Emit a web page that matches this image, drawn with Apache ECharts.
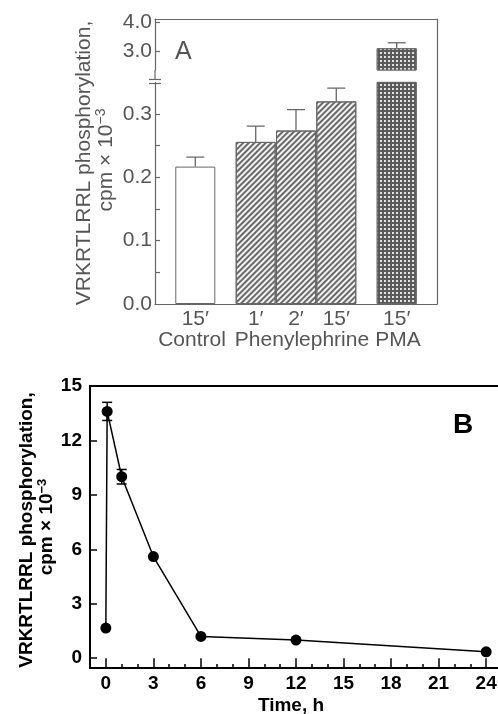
<!DOCTYPE html>
<html><head><meta charset="utf-8">
<script src="https://cdn.jsdelivr.net/npm/echarts@6/dist/echarts.min.js"></script>
<style>html,body{margin:0;padding:0;background:#fff}#c{width:498px;height:714px}</style>
</head><body><div id="c"></div>
<script>
// ---------- Panel A data ----------
const barLabelsA = ['15′', '1′', '2′', '15′', '15′'];
const barKindA   = ['control', 'phenyl', 'phenyl', 'phenyl', 'pma'];
const barPosA    = [1, 2.5, 3.5, 4.5, 6];
const barValA    = [0.217, 0.256, 0.274, 0.320, 3.11];
const barErrA    = [0.232, 0.281, 0.307, 0.341, 3.30];
const groupLabelsA = ['Control', 'Phenylephrine', 'PMA'];
const yTicksALow  = [0, 0.1, 0.2, 0.3];
const yTicksAHigh = [3, 4];
// ---------- Panel B data ----------
const timeB = [0, 0.083, 1, 3, 6, 12, 24];
const valB  = [1.66, 13.6, 10.0, 5.6, 1.2, 1.0, 0.35];
const errB  = [0, 0.5, 0.4, 0, 0, 0, 0];
const xTicksB = [0, 3, 6, 9, 12, 15, 18, 21, 24];
const yTicksB = [0, 3, 6, 9, 12, 15];

const FONT = 'Liberation Sans, Arial, Helvetica, sans-serif';
const GA = '#555555';   // panel A gray
const LA = '#666666';
const FA = 21;          // panel A font size
const FB = 19;          // panel B font size

function styleFor(kind) {
  if (kind === 'control') return { color: '#fff', borderColor: LA, borderWidth: 1 };
  if (kind === 'phenyl') return {
    color: '#f2f2f2', borderColor: LA, borderWidth: 1,
    decal: { symbol: 'rect', symbolSize: 1, color: '#6a6a6a',
             dashArrayX: [1, 0], dashArrayY: [1.3, 1.5], rotation: -Math.PI / 4 }
  };
  return {
    color: '#5a5a5a', borderColor: LA, borderWidth: 1,
    decal: { symbol: 'rect', symbolSize: 1, color: '#e2e2e2',
             dashArrayX: [2, 2], dashArrayY: [2, 2] }
  };
}

const barData = barPosA.map((p, i) => ({ value: [p, barValA[i]], itemStyle: styleFor(barKindA[i]) }));
const errDataA = barPosA.map((p, i) => [p, barValA[i], barErrA[i]]);
const errDataB = timeB.map((t, i) => [t, valB[i] - errB[i], valB[i] + errB[i]]).filter((d, i) => errB[i] > 0);

function errRenderA(params, api) {
  const x = api.value(0), lo = api.value(1), hi = api.value(2);
  const p0 = api.coord([x, lo]), p1 = api.coord([x, hi]);
  const st = { stroke: LA, lineWidth: 1.3 };
  return { type: 'group', children: [
    { type: 'line', shape: { x1: p0[0], y1: p0[1], x2: p1[0], y2: p1[1] }, style: st },
    { type: 'line', shape: { x1: p1[0] - 9, y1: p1[1], x2: p1[0] + 9, y2: p1[1] }, style: st }
  ]};
}
function errRenderB(params, api) {
  const x = api.value(0), lo = api.value(1), hi = api.value(2);
  const p0 = api.coord([x, lo]), p1 = api.coord([x, hi]);
  const st = { stroke: '#000', lineWidth: 1.5 };
  return { type: 'group', children: [
    { type: 'line', shape: { x1: p0[0], y1: p0[1], x2: p1[0], y2: p1[1] }, style: st },
    { type: 'line', shape: { x1: p1[0] - 5, y1: p1[1], x2: p1[0] + 5, y2: p1[1] }, style: st },
    { type: 'line', shape: { x1: p0[0] - 5, y1: p0[1], x2: p0[0] + 5, y2: p0[1] }, style: st }
  ]};
}

const minorA = [];
for (let v = 0.05; v <= 0.301; v += 0.05) minorA.push(+v.toFixed(2));
const minorB = [];
for (let v = 0; v <= 25; v++) minorB.push(v);

const noAxisBits = { axisTick: { show: false }, axisLabel: { show: false }, splitLine: { show: false } };

const chart = echarts.init(document.getElementById('c'), null, { renderer: 'canvas' });
chart.setOption({
  animation: false,
  backgroundColor: '#fff',
  textStyle: { fontFamily: FONT },
  grid: [
    { left: 155, top: 82.4, width: 282, height: 221.6, containLabel: false, outerBoundsMode: 'none' },
    { left: 155, top: 19, width: 282, height: 51, containLabel: false, outerBoundsMode: 'none' },
    { left: 155, top: 19, width: 282, height: 285, containLabel: false, outerBoundsMode: 'none' },
    { left: 90, top: 386, width: 412, height: 282, containLabel: false, outerBoundsMode: 'none',
      show: true, borderColor: '#000', borderWidth: 2, backgroundColor: 'transparent' }
  ],
  xAxis: [
    { gridIndex: 0, type: 'value', min: 0, max: 7,
      axisLine: { show: true, onZero: false, lineStyle: { color: LA, width: 1.2 } },
      axisTick: { show: false }, splitLine: { show: false },
      axisLabel: { customValues: barPosA, margin: 5, fontSize: FA, color: GA, fontFamily: FONT,
        formatter: v => barLabelsA[barPosA.indexOf(v)] } },
    { gridIndex: 1, type: 'value', min: 0, max: 7, show: false },
    Object.assign({ gridIndex: 2, type: 'value', min: 0, max: 1, position: 'top',
      axisLine: { show: true, onZero: false, lineStyle: { color: LA, width: 1.2 } } }, noAxisBits),
    { gridIndex: 3, type: 'value', min: -1, max: 25,
      axisLine: { show: true, onZero: false, lineStyle: { color: '#000', width: 2 } },
      axisTick: { show: true, inside: true, length: 4, customValues: minorB, lineStyle: { color: '#000', width: 1.5 } },
      splitLine: { show: false },
      axisLabel: { customValues: xTicksB, margin: 6, fontSize: FB, fontWeight: 'bold', color: '#000', fontFamily: FONT } },
    { gridIndex: 3, type: 'value', min: -1, max: 25,
      axisLine: { show: false },
      axisTick: { show: true, inside: true, length: 8, customValues: xTicksB, lineStyle: { color: '#000', width: 1.5 } },
      axisLabel: { show: false }, splitLine: { show: false } }
  ],
  yAxis: [
    { gridIndex: 0, type: 'value', min: 0, max: 0.35,
      axisLine: { show: true, onZero: false, lineStyle: { color: LA, width: 1.2 } },
      axisTick: { show: true, inside: true, length: 5, customValues: minorA, lineStyle: { color: LA, width: 1.2 } },
      splitLine: { show: false },
      axisLabel: { customValues: yTicksALow, margin: 3, fontSize: FA, color: GA, fontFamily: FONT,
        formatter: v => v.toFixed(1) } },
    { gridIndex: 1, type: 'value', min: 2.36, max: 4.12,
      axisLine: { show: true, onZero: false, lineStyle: { color: LA, width: 1.2 } },
      axisTick: { show: true, inside: true, length: 5, customValues: yTicksAHigh, lineStyle: { color: LA, width: 1.2 } },
      splitLine: { show: false },
      axisLabel: { customValues: yTicksAHigh, margin: 3, fontSize: FA, color: GA, fontFamily: FONT,
        formatter: v => v.toFixed(1) } },
    Object.assign({ gridIndex: 2, type: 'value', min: 0, max: 1, position: 'right',
      axisLine: { show: true, onZero: false, lineStyle: { color: LA, width: 1.2 } } }, noAxisBits),
    { gridIndex: 3, type: 'value', min: -0.54, max: 15,
      axisLine: { show: true, onZero: false, lineStyle: { color: '#000', width: 2 } },
      axisTick: { show: true, inside: true, length: 7, customValues: yTicksB, lineStyle: { color: '#000', width: 1.5 } },
      splitLine: { show: false },
      axisLabel: { customValues: yTicksB, margin: 8, fontSize: FB, fontWeight: 'bold', color: '#000', fontFamily: FONT } }
  ],
  series: [
    { type: 'bar', xAxisIndex: 0, yAxisIndex: 0, barWidth: 40, clip: true, data: barData },
    { type: 'bar', xAxisIndex: 1, yAxisIndex: 1, barWidth: 40, clip: true, data: barData },
    { type: 'custom', xAxisIndex: 0, yAxisIndex: 0, clip: true, renderItem: errRenderA, data: errDataA, z: 1 },
    { type: 'custom', xAxisIndex: 1, yAxisIndex: 1, clip: true, renderItem: errRenderA, data: errDataA, z: 1 },
    { type: 'line', xAxisIndex: 3, yAxisIndex: 3, data: timeB.map((t, i) => [t, valB[i]]),
      symbol: 'circle', symbolSize: 11, showSymbol: true,
      itemStyle: { color: '#000', borderWidth: 0 }, lineStyle: { color: '#000', width: 1.5 } },
    { type: 'custom', xAxisIndex: 3, yAxisIndex: 3, renderItem: errRenderB, data: errDataB, z: 3 }
  ],
  graphic: [
    // axis break marks (panel A)
    { type: 'line', shape: { x1: 155, y1: 70, x2: 155, y2: 79.5 }, style: { stroke: LA, lineWidth: 1.2 } },
    { type: 'line', shape: { x1: 149, y1: 79.5, x2: 161, y2: 79.5 }, style: { stroke: LA, lineWidth: 1.2 } },
    { type: 'line', shape: { x1: 149, y1: 83.5, x2: 161, y2: 83.5 }, style: { stroke: LA, lineWidth: 1.2 } },
    { type: 'text', x: 175, y: 52, style: { text: 'A', font: '25px ' + FONT, fill: GA, align: 'left', verticalAlign: 'middle' } },
    { type: 'text', x: 192, y: 340, style: { text: groupLabelsA[0], font: FA + 'px ' + FONT, fill: GA, align: 'center', verticalAlign: 'middle' } },
    { type: 'text', x: 302, y: 340, style: { text: groupLabelsA[1], font: FA + 'px ' + FONT, fill: GA, align: 'center', verticalAlign: 'middle' } },
    { type: 'text', x: 398, y: 340, style: { text: groupLabelsA[2], font: FA + 'px ' + FONT, fill: GA, align: 'center', verticalAlign: 'middle' } },
    { type: 'text', x: 84, y: 163, rotation: Math.PI / 2,
      style: { text: 'VRKRTLRRL phosphorylation,', font: FA + 'px ' + FONT, fill: GA, align: 'center', verticalAlign: 'middle' } },
    { type: 'text', x: 106, y: 160, rotation: Math.PI / 2,
      style: { text: 'cpm × 10{sup|−3}', font: FA + 'px ' + FONT, fill: GA, align: 'center', verticalAlign: 'middle',
        rich: { sup: { fontSize: 14, fill: GA, padding: [0, 0, 10, 0] } } } },
    { type: 'text', x: 463, y: 425, style: { text: 'B', font: 'bold 28px ' + FONT, fill: '#000', align: 'center', verticalAlign: 'middle' } },
    { type: 'text', x: 291, y: 706, style: { text: 'Time, h', font: 'bold ' + FB + 'px ' + FONT, fill: '#000', align: 'center', verticalAlign: 'middle' } },
    { type: 'text', x: 27, y: 530, rotation: Math.PI / 2,
      style: { text: 'VRKRTLRRL phosphorylation,', font: 'bold ' + FB + 'px ' + FONT, fill: '#000', align: 'center', verticalAlign: 'middle' } },
    { type: 'text', x: 47, y: 527, rotation: Math.PI / 2,
      style: { text: 'cpm × 10{sup|−3}', font: 'bold ' + FB + 'px ' + FONT, fill: '#000', align: 'center', verticalAlign: 'middle',
        rich: { sup: { fontSize: 13, fontWeight: 'bold', fill: '#000', padding: [0, 0, 10, 0] } } } }
  ]
});
</script></body></html>
